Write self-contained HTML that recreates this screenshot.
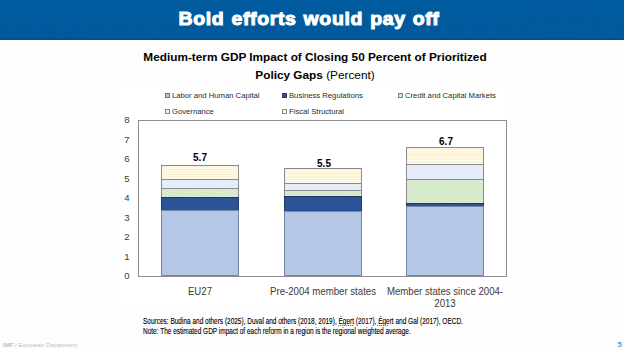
<!DOCTYPE html>
<html><head><meta charset="utf-8">
<style>
*{margin:0;padding:0;box-sizing:border-box}
html,body{width:624px;height:349px;overflow:hidden;background:#fdfdfd;font-family:"Liberation Sans",sans-serif;position:relative}
.a{position:absolute;white-space:nowrap}
#hdr{left:0;top:0;width:624px;height:40px;background:#015c9f;overflow:hidden}
#hdr .t{left:0;width:618px;top:7px;text-align:center;color:#fff;font-weight:bold;font-size:18.3px;line-height:24px;-webkit-text-stroke:1px #fff;letter-spacing:0.6px;word-spacing:1px;transform:scaleX(1.065);transform-origin:309px 50%}
#img{left:113px;top:88px;width:397px;height:221px;background:#fff}
.ttl{left:0;width:630px;text-align:center;color:#000;font-weight:bold;font-size:11.8px;line-height:14px}
.lg{font-size:8px;line-height:10px;color:#2a2a2a;transform-origin:0 50%;transform:scaleX(0.96)}
.mk{width:5px;height:5px;border:1px solid #7f7f7f}
#plot{left:138px;top:120px;width:369px;height:157px;border:1px solid #8c8c8c;background:#fff}
.yl{left:118px;width:18px;text-align:center;font-size:9.6px;line-height:10px;color:#3a3a3a}
.vl{font-weight:bold;font-size:10px;line-height:12px;color:#000;text-align:center;width:60px}
.xl{font-size:10.5px;line-height:12px;color:#3a3a3a;text-align:center;transform-origin:50% 50%;transform:scaleX(0.917)}
.src{font-size:8.6px;line-height:9.5px;color:#000;-webkit-text-stroke:0.12px #000;transform-origin:0 50%;transform:scaleX(0.755)}
</style></head>
<body>
<div id="hdr" class="a">
<svg width="624" height="40" style="position:absolute;left:0;top:0" viewBox="0 0 624 40">
<rect width="624" height="40" fill="#015c9f"/>
<g fill="none" stroke="#0a4a86" stroke-width="0.8" opacity="0.4">
<polyline points="0,20.2 6,20.3 12,20.5 18,20.7 24,20.9 30,21.1 36,21.4 42,21.6 48,21.8 54,21.8 60,21.8 66,21.7 72,21.4 78,21.0 84,20.5 90,20.0 96,19.4 102,18.9 108,18.4 114,18.0 120,17.7 126,17.6 132,17.7 138,17.8 144,18.0 150,18.3 156,18.6 162,18.9 168,19.2 174,19.4 180,19.6 186,19.8 192,19.8 198,19.9 204,19.9 210,20.0 216,20.0 222,20.0 228,20.0 234,20.0 240,20.0 246,20.0 252,20.0 258,20.0 264,20.0 270,20.0 276,19.9 282,19.9 288,19.9 294,19.8 300,19.7 306,19.6 312,19.5 318,19.4 324,19.3 330,19.1 336,18.9 342,18.7 348,18.5 354,18.3 360,18.1 366,17.9 372,17.7 378,17.6 384,17.5 390,17.5 396,17.5 402,17.6 408,17.7 414,17.9 420,18.1 426,18.3 432,18.5 438,18.7 444,18.9 450,19.1 456,19.2 462,19.4 468,19.5 474,19.6 480,19.6 486,19.6 492,19.5 498,19.4 504,19.1 510,18.7 516,18.2 522,17.5 528,16.8 534,16.1 540,15.3 546,14.7 552,14.2 558,14.0 564,14.1 570,14.4 576,14.9 582,15.6 588,16.3 594,17.1 600,17.8 606,18.4 612,18.9 618,19.3 624,19.5"/>
<polyline points="0,24.2 6,24.3 12,24.5 18,24.7 24,24.9 30,25.1 36,25.4 42,25.6 48,25.8 54,25.8 60,25.8 66,25.7 72,25.4 78,25.0 84,24.5 90,24.0 96,23.4 102,22.9 108,22.4 114,22.0 120,21.7 126,21.6 132,21.7 138,21.8 144,22.0 150,22.3 156,22.6 162,22.9 168,23.2 174,23.4 180,23.6 186,23.8 192,23.8 198,23.9 204,23.9 210,24.0 216,24.0 222,24.0 228,24.0 234,24.0 240,24.0 246,24.0 252,24.0 258,24.0 264,24.0 270,24.0 276,23.9 282,23.9 288,23.9 294,23.8 300,23.7 306,23.6 312,23.5 318,23.4 324,23.3 330,23.1 336,22.9 342,22.7 348,22.5 354,22.3 360,22.1 366,21.9 372,21.7 378,21.6 384,21.5 390,21.5 396,21.5 402,21.6 408,21.7 414,21.9 420,22.1 426,22.3 432,22.5 438,22.7 444,22.9 450,23.1 456,23.2 462,23.4 468,23.5 474,23.6 480,23.6 486,23.6 492,23.5 498,23.4 504,23.1 510,22.7 516,22.2 522,21.5 528,20.8 534,20.1 540,19.3 546,18.7 552,18.2 558,18.0 564,18.1 570,18.4 576,18.9 582,19.6 588,20.3 594,21.1 600,21.8 606,22.4 612,22.9 618,23.3 624,23.5"/>
<polyline points="0,28.2 6,28.3 12,28.5 18,28.7 24,28.9 30,29.1 36,29.4 42,29.6 48,29.8 54,29.8 60,29.8 66,29.7 72,29.4 78,29.0 84,28.5 90,28.0 96,27.4 102,26.9 108,26.4 114,26.0 120,25.7 126,25.6 132,25.7 138,25.8 144,26.0 150,26.3 156,26.6 162,26.9 168,27.2 174,27.4 180,27.6 186,27.8 192,27.8 198,27.9 204,27.9 210,28.0 216,28.0 222,28.0 228,28.0 234,28.0 240,28.0 246,28.0 252,28.0 258,28.0 264,28.0 270,28.0 276,27.9 282,27.9 288,27.9 294,27.8 300,27.7 306,27.6 312,27.5 318,27.4 324,27.3 330,27.1 336,26.9 342,26.7 348,26.5 354,26.3 360,26.1 366,25.9 372,25.7 378,25.6 384,25.5 390,25.5 396,25.5 402,25.6 408,25.7 414,25.9 420,26.1 426,26.3 432,26.5 438,26.7 444,26.9 450,27.1 456,27.2 462,27.4 468,27.5 474,27.6 480,27.6 486,27.6 492,27.5 498,27.4 504,27.1 510,26.7 516,26.2 522,25.5 528,24.8 534,24.1 540,23.3 546,22.7 552,22.2 558,22.0 564,22.1 570,22.4 576,22.9 582,23.6 588,24.3 594,25.1 600,25.8 606,26.4 612,26.9 618,27.3 624,27.5"/>
<polyline points="0,32.2 6,32.3 12,32.4 18,32.5 24,32.7 30,32.9 36,33.1 42,33.3 48,33.4 54,33.5 60,33.5 66,33.3 72,33.1 78,32.8 84,32.4 90,32.0 96,31.5 102,31.1 108,30.7 114,30.4 120,30.2 126,30.1 132,30.1 138,30.2 144,30.4 150,30.7 156,30.9 162,31.2 168,31.4 174,31.6 180,31.7 186,31.8 192,31.9 198,31.9 204,32.0 210,32.0 216,32.0 222,32.0 228,32.0 234,32.0 240,32.0 246,32.0 252,32.0 258,32.0 264,32.0 270,32.0 276,31.9 282,31.9 288,31.9 294,31.8 300,31.8 306,31.7 312,31.6 318,31.5 324,31.4 330,31.3 336,31.1 342,30.9 348,30.8 354,30.6 360,30.4 366,30.3 372,30.2 378,30.1 384,30.0 390,30.0 396,30.0 402,30.1 408,30.2 414,30.3 420,30.4 426,30.6 432,30.8 438,30.9 444,31.1 450,31.3 456,31.4 462,31.5 468,31.6 474,31.7 480,31.7 486,31.7 492,31.6 498,31.5 504,31.3 510,31.0 516,30.5 522,30.0 528,29.5 534,28.8 540,28.3 546,27.8 552,27.4 558,27.2 564,27.2 570,27.5 576,27.9 582,28.5 588,29.1 594,29.7 600,30.2 606,30.7 612,31.1 618,31.4 624,31.6"/>
<polyline points="0,35.6 6,35.6 12,35.7 18,35.8 24,35.9 30,36.0 36,36.1 42,36.1 48,36.2 54,36.2 60,36.2 66,36.2 72,36.1 78,35.9 84,35.7 90,35.5 96,35.3 102,35.0 108,34.9 114,34.7 120,34.6 126,34.6 132,34.6 138,34.6 144,34.7 150,34.8 156,35.0 162,35.1 168,35.2 174,35.3 180,35.3 186,35.4 192,35.4 198,35.5 204,35.5 210,35.5 216,35.5 222,35.5 228,35.5 234,35.5 240,35.5 246,35.5 252,35.5 258,35.5 264,35.5 270,35.5 276,35.5 282,35.5 288,35.4 294,35.4 300,35.4 306,35.4 312,35.3 318,35.3 324,35.2 330,35.1 336,35.1 342,35.0 348,34.9 354,34.8 360,34.7 366,34.6 372,34.6 378,34.5 384,34.5 390,34.5 396,34.5 402,34.5 408,34.6 414,34.6 420,34.7 426,34.8 432,34.9 438,35.0 444,35.1 450,35.1 456,35.2 462,35.3 468,35.3 474,35.3 480,35.4 486,35.3 492,35.3 498,35.2 504,35.1 510,35.0 516,34.8 522,34.5 528,34.2 534,33.9 540,33.6 546,33.4 552,33.2 558,33.1 564,33.1 570,33.2 576,33.5 582,33.7 588,34.0 594,34.3 600,34.6 606,34.9 612,35.1 618,35.2 624,35.3"/>
<path d="M4 20.3 L7 38"/>
<path d="M16 20.6 L19 38"/>
<path d="M28 21.0 L31 38"/>
<path d="M40 21.5 L43 38"/>
<path d="M52 21.8 L55 38"/>
<path d="M64 21.7 L67 38"/>
<path d="M76 21.1 L79 38"/>
<path d="M88 20.2 L91 38"/>
<path d="M100 19.0 L103 38"/>
<path d="M112 18.1 L115 38"/>
<path d="M124 17.7 L127 38"/>
<path d="M136 17.7 L139 38"/>
<path d="M148 18.2 L151 38"/>
<path d="M160 18.8 L163 38"/>
<path d="M172 19.4 L175 38"/>
<path d="M184 19.7 L187 38"/>
<path d="M196 19.9 L199 38"/>
<path d="M208 20.0 L211 38"/>
<path d="M220 20.0 L223 38"/>
<path d="M232 20.0 L235 38"/>
<path d="M244 20.0 L247 38"/>
<path d="M256 20.0 L259 38"/>
<path d="M268 20.0 L271 38"/>
<path d="M280 19.9 L283 38"/>
<path d="M292 19.8 L295 38"/>
<path d="M304 19.7 L307 38"/>
<path d="M316 19.5 L319 38"/>
<path d="M328 19.1 L331 38"/>
<path d="M340 18.8 L343 38"/>
<path d="M352 18.3 L355 38"/>
<path d="M364 17.9 L367 38"/>
<path d="M376 17.6 L379 38"/>
<path d="M388 17.5 L391 38"/>
<path d="M400 17.6 L403 38"/>
<path d="M412 17.8 L415 38"/>
<path d="M424 18.2 L427 38"/>
<path d="M436 18.6 L439 38"/>
<path d="M448 19.0 L451 38"/>
<path d="M460 19.3 L463 38"/>
<path d="M472 19.6 L475 38"/>
<path d="M484 19.6 L487 38"/>
<path d="M496 19.4 L499 38"/>
<path d="M508 18.8 L511 38"/>
<path d="M520 17.8 L523 38"/>
<path d="M532 16.3 L535 38"/>
<path d="M544 14.9 L547 38"/>
<path d="M556 14.1 L559 38"/>
<path d="M568 14.2 L571 38"/>
<path d="M580 15.3 L583 38"/>
<path d="M592 16.8 L595 38"/>
<path d="M604 18.2 L607 38"/>
<path d="M616 19.2 L619 38"/>
</g>
<rect x="0" y="38" width="624" height="2" fill="#014f8c"/>
</svg>
<div class="a t">Bold efforts would pay off</div>
</div>
<div id="img" class="a"></div>

<div class="a ttl" style="top:50px">Medium-term GDP Impact of Closing 50 Percent of Prioritized</div>
<div class="a ttl" style="top:68px">Policy Gaps<span style="font-weight:normal"> (Percent)</span></div>

<!-- legend -->
<div class="a mk" style="left:164.8px;top:93px;background:#b4c7e7;border-color:#66758f"></div>
<div class="a lg" style="left:172px;top:91px">Labor and Human Capital</div>
<div class="a mk" style="left:281.7px;top:93px;background:#2c5398;border-color:#2a3a5a"></div>
<div class="a lg" style="left:289px;top:91px">Business Regulations</div>
<div class="a mk" style="left:397.7px;top:93px;background:#d3eac6;border-color:#7a8a72"></div>
<div class="a lg" style="left:405px;top:91px">Credit and Capital Markets</div>
<div class="a mk" style="left:164.8px;top:109px;background:#e9eef8;border-color:#8a8a8a"></div>
<div class="a lg" style="left:172px;top:107px">Governance</div>
<div class="a mk" style="left:281.7px;top:109px;background:#fff5d6;border-color:#8a8a8a"></div>
<div class="a lg" style="left:289px;top:107px">Fiscal Structural</div>

<!-- y labels -->
<div class="a yl" style="top:115px">8</div>
<div class="a yl" style="top:134.5px">7</div>
<div class="a yl" style="top:154px">6</div>
<div class="a yl" style="top:173.5px">5</div>
<div class="a yl" style="top:193px">4</div>
<div class="a yl" style="top:212.5px">3</div>
<div class="a yl" style="top:232px">2</div>
<div class="a yl" style="top:251.5px">1</div>
<div class="a yl" style="top:271px">0</div>

<div id="plot" class="a"></div>

<svg class="a" style="left:0;top:0" width="624" height="349" viewBox="0 0 624 349">
<defs>
<pattern id="pFis" width="5" height="2.5" patternUnits="userSpaceOnUse">
<rect width="5" height="2.5" fill="#fffcf3"/><rect y="1.2" width="5" height="1.3" fill="#fcf0c8"/>
</pattern>
<pattern id="pGov" width="2" height="2" patternUnits="userSpaceOnUse">
<rect width="2" height="2" fill="#e9eef8"/><rect width="1" height="1" fill="#e1e7f4"/>
</pattern>
<pattern id="pCre" width="2.5" height="2.5" patternUnits="userSpaceOnUse" patternTransform="rotate(-45)">
<rect width="2.5" height="2.5" fill="#e8f4e2"/><rect width="1.3" height="2.5" fill="#c6e3b8"/>
</pattern>
</defs>
<g stroke="#8a8a8a" stroke-width="1">
<rect x="161.5" y="165.5" width="77" height="14.0" fill="url(#pFis)"/>
<rect x="161.5" y="179.5" width="77" height="9.0" fill="url(#pGov)"/>
<rect x="161.5" y="188.5" width="77" height="9.0" fill="url(#pCre)"/>
<rect x="161.5" y="197.5" width="77" height="13.0" fill="#2c5398" stroke="#1f3868"/>
<rect x="161.5" y="210.5" width="77" height="65.0" fill="#b4c7e7" stroke="#7587a6"/>
<rect x="284.5" y="168.5" width="77" height="15.0" fill="url(#pFis)"/>
<rect x="284.5" y="183.5" width="77" height="7.0" fill="url(#pGov)"/>
<rect x="284.5" y="190.5" width="77" height="6.0" fill="url(#pCre)"/>
<rect x="284.5" y="196.5" width="77" height="15.0" fill="#2c5398" stroke="#1f3868"/>
<rect x="284.5" y="211.5" width="77" height="64.0" fill="#b4c7e7" stroke="#7587a6"/>
<rect x="406.5" y="147.5" width="77" height="17.0" fill="url(#pFis)"/>
<rect x="406.5" y="164.5" width="77" height="15.0" fill="url(#pGov)"/>
<rect x="406.5" y="179.5" width="77" height="24.0" fill="url(#pCre)"/>
<rect x="406.5" y="203.5" width="77" height="3.0" fill="#2c5398" stroke="#1f3868"/>
<rect x="406.5" y="206.5" width="77" height="69.0" fill="#b4c7e7" stroke="#7587a6"/>
</g>
</svg>

<div class="a vl" style="left:170px;top:151.8px">5.7</div>
<div class="a vl" style="left:294px;top:158px">5.5</div>
<div class="a vl" style="left:416px;top:135.5px">6.7</div>

<div class="a xl" style="left:120px;width:160px;top:284.5px">EU27</div>
<div class="a xl" style="left:242.5px;width:160px;top:284.5px">Pre-2004 member states</div>
<div class="a xl" style="left:365px;width:160px;top:284.5px">Member states since 2004-</div>
<div class="a xl" style="left:365px;width:160px;top:296.5px">2013</div>

<div class="a src" style="left:143px;top:316.5px">Sources: Budina and others (2025), Duval and others (2018, 2019), Égert (2017), Égert and Gal (2017), OECD.</div>
<div class="a src" style="left:143px;top:326.5px">Note: The estimated GDP impact of each reform in a region is the regional weighted average.</div>

<div class="a" style="left:337.5px;top:324.6px;width:16px;height:1px;background:repeating-linear-gradient(90deg,#e35a5a 0 1px,#f4c4c4 1px 2px)"></div>
<div class="a" style="left:376.5px;top:324.6px;width:11px;height:1px;background:repeating-linear-gradient(90deg,#e35a5a 0 1px,#f4c4c4 1px 2px)"></div>
<div class="a" style="left:3px;top:341px;font-size:6px;line-height:8px;color:#bdbdbd"><b>IMF</b> | European Department</div>
<div class="a" style="left:617.5px;top:339.6px;font-size:7.6px;line-height:9px;color:#3aa5e2;font-weight:bold">5</div>
</body></html>
